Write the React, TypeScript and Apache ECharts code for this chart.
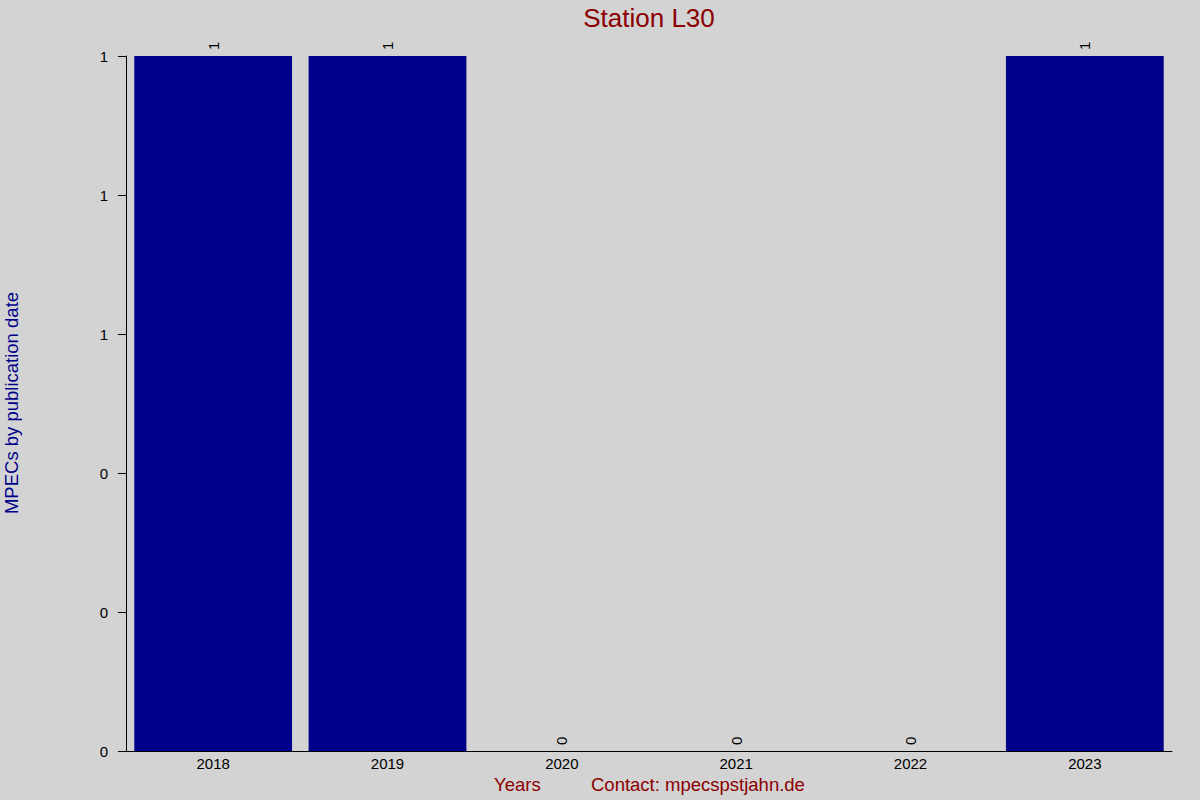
import { useEffect, useRef } from "react";
import * as echarts from "echarts";

const years = ["2018", "2019", "2020", "2021", "2022", "2023"];
const mpecCounts = [1, 1, 0, 0, 0, 1];

const FONT = "'Liberation Sans', Arial, sans-serif";

export default function App() {
  const ref = useRef<HTMLDivElement | null>(null);

  useEffect(() => {
    if (!ref.current) return;
    const chart = echarts.init(ref.current, null, { renderer: "svg" });
    chart.setOption({
      animation: false,
      backgroundColor: "#d3d3d3",
      textStyle: { fontFamily: FONT },
      grid: {
        left: 126,
        right: 28,
        top: 56,
        bottom: 49,
        containLabel: false,
        outerBoundsMode: "none",
      },
      xAxis: {
        type: "category",
        data: years,
        axisTick: { show: false },
        axisLine: { lineStyle: { color: "#000", width: 1 } },
        axisLabel: { color: "#000", fontSize: 15, margin: 5, fontFamily: FONT },
      },
      yAxis: {
        type: "value",
        min: 0,
        max: 1,
        interval: 0.2,
        axisLine: { show: true, lineStyle: { color: "#000", width: 1 } },
        axisTick: { show: true, length: 8, lineStyle: { color: "#000" } },
        splitLine: { show: false },
        axisLabel: {
          color: "#000",
          fontSize: 15,
          margin: 18,
          fontFamily: FONT,
          formatter: (v: number) => String(Math.round(v)),
        },
      },
      series: [
        {
          type: "bar",
          data: mpecCounts,
          barCategoryGap: "9.5%",
          itemStyle: { color: "#00008b" },
          label: {
            show: true,
            position: "top",
            rotate: 90,
            align: "left",
            verticalAlign: "middle",
            distance: 6,
            color: "#000",
            fontSize: 15,
            fontFamily: FONT,
          },
        },
      ],
      graphic: [
        {
          type: "text",
          x: 649,
          y: 18,
          style: {
            text: "Station L30",
            fill: "#8b0000",
            fontSize: 26,
            fontFamily: FONT,
            align: "center",
            verticalAlign: "middle",
          },
        },
        {
          type: "text",
          x: 11,
          y: 403,
          rotation: Math.PI / 2,
          style: {
            text: "MPECs by publication date",
            fill: "#00008b",
            fontSize: 18.5,
            fontFamily: FONT,
            align: "center",
            verticalAlign: "middle",
          },
        },
        {
          type: "text",
          left: 494,
          top: 775,
          style: { text: "Years", fill: "#8b0000", fontSize: 18.5, fontFamily: FONT },
        },
        {
          type: "text",
          left: 591,
          top: 775,
          style: { text: "Contact: mpecspstjahn.de", fill: "#8b0000", fontSize: 18.5, fontFamily: FONT },
        },
      ],
    });
    return () => chart.dispose();
  }, []);

  return (
    <div
      ref={ref}
      style={{ position: "absolute", left: 0, top: 0, width: 1200, height: 800 }}
    />
  );
}
